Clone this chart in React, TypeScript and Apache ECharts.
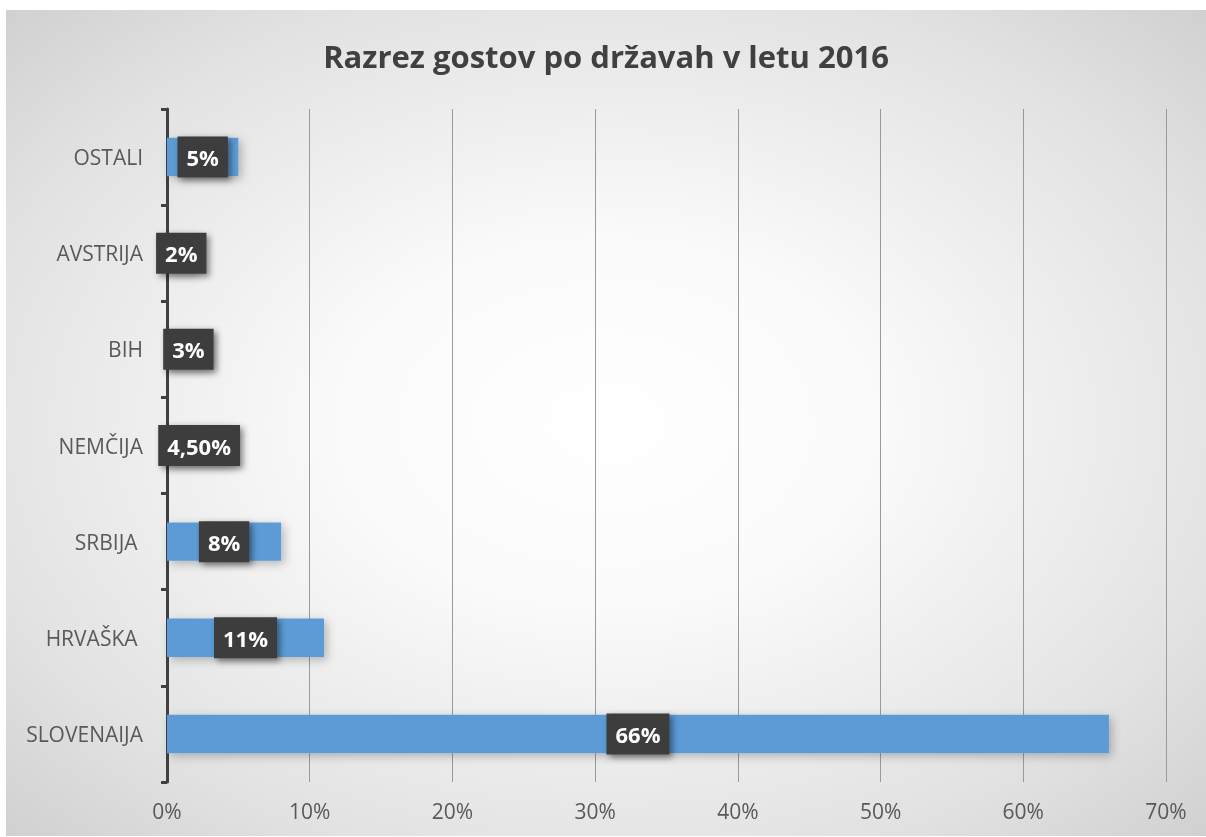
import React, { useEffect, useRef } from "react";
import * as echarts from "echarts";

const titleText = "Razrez gostov po državah v letu 2016";
const categories = ["SLOVENAIJA", "HRVAŠKA ", "SRBIJA ", "NEMČIJA", "BIH", "AVSTRIJA", "OSTALI"];
const values = [66, 11, 8, 4.5, 3, 2, 5];
const valueLabels = ["66%", "11%", "8%", "4,50%", "3%", "2%", "5%"];
const xTicks = [0, 10, 20, 30, 40, 50, 60, 70];

export default function App() {
  const ref = useRef<HTMLDivElement>(null);
  useEffect(() => {
    if (!ref.current) return;
    const chart = echarts.init(ref.current, undefined, { renderer: "svg" });
    chart.setOption({
      animation: false,
      backgroundColor: new echarts.graphic.RadialGradient(0.5, 0.5, 0.9, [
        { offset: 0, color: "#ffffff" },
        { offset: 0.25, color: "#fafafa" },
        { offset: 0.6, color: "#e2e2e2" },
        { offset: 1, color: "#bcbcbc" },
      ]),
      title: {
        text: titleText,
        left: "center",
        top: 25,
        textStyle: {
          fontFamily: "Open Sans",
          fontWeight: "bold",
          fontSize: 31,
          color: "#404040",
        },
      },
      grid: { left: 161, right: 40, top: 99, bottom: 54, containLabel: false },
      xAxis: {
        type: "value",
        min: xTicks[0],
        max: xTicks[xTicks.length - 1],
        interval: 10,
        axisLine: { show: false },
        axisTick: { show: false },
        splitLine: { show: true, lineStyle: { color: "#9a9a9a", width: 1 } },
        axisLabel: {
          formatter: (v: number) => v + "%",
          fontFamily: "Open Sans",
          fontSize: 21,
          color: "#595959",
          margin: 18,
        },
      },
      yAxis: {
        type: "category",
        data: categories,
        axisLine: { show: true, lineStyle: { color: "#404040", width: 3 } },
        axisTick: { show: true, length: 6, lineStyle: { color: "#404040", width: 3 } },
        axisLabel: {
          formatter: (v: string) => v.replace(/ $/, "\u00a0"),
          fontFamily: "Open Sans",
          fontSize: 21,
          color: "#595959",
          margin: 24,
        },
      },
      series: [
        {
          type: "bar",
          data: values,
          barWidth: "40%",
          itemStyle: {
            color: "#5b9bd5",
            shadowBlur: 10,
            shadowColor: "rgba(0,0,0,0.25)",
            shadowOffsetX: 3,
            shadowOffsetY: 3,
          },
          label: {
            show: true,
            position: "inside",
            formatter: (p: any) => valueLabels[p.dataIndex],
            fontFamily: "Open Sans",
            fontWeight: "bold",
            fontSize: 22,
            lineHeight: 26,
            color: "#ffffff",
            backgroundColor: "#3d3d3d",
            padding: [8, 9, 7, 9],
            shadowBlur: 6,
            shadowColor: "rgba(0,0,0,0.45)",
            shadowOffsetX: 3,
            shadowOffsetY: 3,
          },
          z: 3,
        },
      ],
    });
    return () => chart.dispose();
  }, []);
  return (
    <div
      ref={ref}
      style={{
        position: "fixed",
        left: 6,
        top: 10,
        width: 1200,
        height: 826,
      }}
    />
  );
}
